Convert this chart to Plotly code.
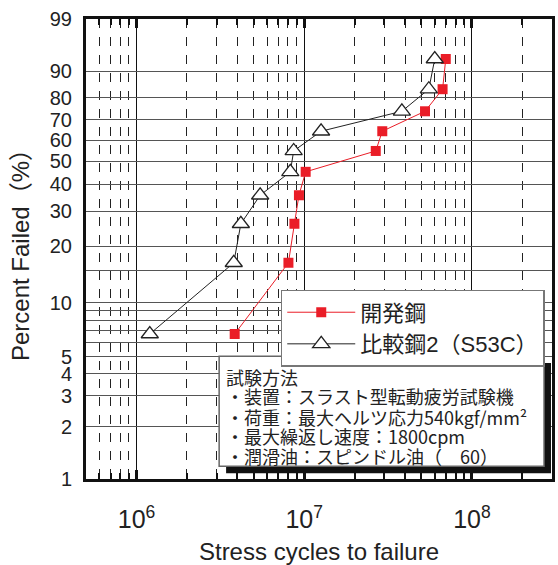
import numpy as np
import plotly.graph_objects as go

# ---- data ----
percent_failed = [6.7, 16.4, 26.0, 35.6, 45.2, 54.8, 64.4, 74.0, 83.6, 93.3]
cycles_dev = [3.85e6, 8.05e6, 8.74e6, 9.3e6, 1.02e7, 2.67e7, 2.92e7, 5.25e7, 6.68e7, 6.98e7]
cycles_cmp = [1.2e6, 3.8e6, 4.19e6, 5.46e6, 8.26e6, 8.65e6, 1.26e7, 3.82e7, 5.53e7, 6.0e7]
series_names = ["開発鋼", "比較鋼2（S53C）"]

grid_percents = [1, 2, 3, 4, 5, 6, 7, 8, 9, 10, 15, 20, 30, 40, 50, 60, 70, 80, 90, 99]
label_percents = [1, 2, 3, 4, 5, 10, 20, 30, 40, 50, 60, 70, 80, 90, 99]
x_range = [5e5, 3e8]

test_title = "試験方法"
test_lines = [
    "・装置：スラスト型転動疲労試験機",
    "・荷重：最大ヘルツ応力540kgf/mm²",
    "・最大繰返し速度：1800cpm",
    "・潤滑油：スピンドル油（　60）",
]


def weib(p):
    p = np.asarray(p, dtype=float) / 100.0
    return np.log(-np.log(1.0 - p))


FONT = "Liberation Sans, Arial, Noto Sans CJK JP, sans-serif"
RED = "#ea1d27"

fig = go.Figure()
fig.add_trace(go.Scatter(
    x=cycles_dev, y=weib(percent_failed), name=series_names[0],
    mode="lines+markers",
    line=dict(color=RED, width=1),
    marker=dict(symbol="square", size=10, color=RED),
))
fig.add_trace(go.Scatter(
    x=cycles_cmp, y=weib(percent_failed), name=series_names[1],
    mode="lines+markers",
    line=dict(color="#222", width=1),
    marker=dict(symbol="triangle-up", size=15, color="white",
                line=dict(color="#222", width=1.3)),
))

L, R, T, B = 86, 3, 19, 74
W, H = 558, 565
pw, ph = W - L - R, H - T - B


def px_x(px):
    return (px - L) / pw


def px_y(py):
    return (H - B - py) / ph


fig.update_xaxes(
    type="log", range=[np.log10(x_range[0]), np.log10(x_range[1])],
    dtick=1, tick0=0, exponentformat="power", showexponent="all",
    showgrid=True, gridcolor="#111", gridwidth=1.3,
    ticks="inside", ticklen=9, tickwidth=3, tickcolor="#111",
    mirror="allticks", showline=True, linewidth=3, linecolor="#111",
    minor=dict(dtick="D1", showgrid=True, griddash="dash", gridcolor="#222",
               gridwidth=1, ticks="inside", ticklen=6, tickwidth=2, tickcolor="#111"),
    tickfont=dict(family=FONT, size=20, color="#222"),
    ticklabelstandoff=17,
    title=dict(text="Stress cycles to failure", font=dict(family=FONT, size=24, color="#222"),
               standoff=12),
    zeroline=False,
)
fig.update_yaxes(
    range=[float(weib(1)), float(weib(99))],
    tickmode="array", tickvals=weib(grid_percents).tolist(),
    ticktext=[str(p) if p in label_percents else "" for p in grid_percents],
    showgrid=True, gridcolor="#555", gridwidth=1.3,
    ticks="", showline=True, linewidth=3, linecolor="#111", mirror=True,
    tickfont=dict(family=FONT, size=20, color="#222"),
    ticklabelstandoff=7,
    title=dict(text="Percent Failed（%）", font=dict(family=FONT, size=24, color="#222"),
               standoff=14),
    zeroline=False,
)

# test-condition box (shadow + frame)
fig.add_shape(type="rect", xref="paper", yref="paper",
              x0=px_x(227), x1=px_x(554), y0=px_y(485), y1=px_y(372),
              fillcolor="#111", line=dict(width=0), layer="above")
fig.add_shape(type="rect", xref="paper", yref="paper",
              x0=px_x(220), x1=px_x(547), y0=px_y(478), y1=px_y(365),
              fillcolor="white", line=dict(color="#666", width=1.5), layer="above")

BOXFONT = "Noto Sans CJK JP, Liberation Sans, sans-serif"
ys = [386, 406, 427, 447, 467]
for txt, yy in zip([test_title] + test_lines, ys):
    fig.add_annotation(xref="paper", yref="paper", x=px_x(225), y=px_y(yy),
                       xanchor="left", yanchor="middle", showarrow=False,
                       text=txt, font=dict(family=BOXFONT, size=18, color="#222"))

fig.update_layout(
    width=W, height=H, margin=dict(l=L, r=R, t=T, b=B),
    paper_bgcolor="white", plot_bgcolor="white",
    showlegend=True,
    legend=dict(x=px_x(282), y=px_y(297), xanchor="left", yanchor="top",
                bgcolor="white", bordercolor="#777", borderwidth=1.5,
                font=dict(family=FONT, size=22, color="#222"),
                itemwidth=68, tracegroupgap=0),
)

fig.write_html("out.html")
